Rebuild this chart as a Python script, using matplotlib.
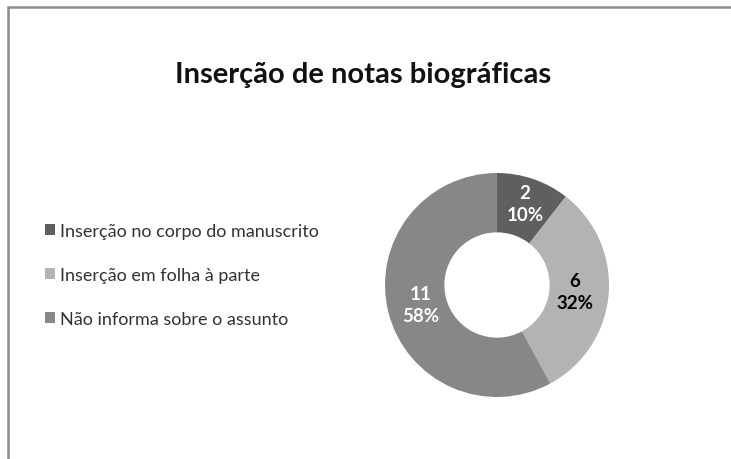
import matplotlib
matplotlib.use("Agg")
import matplotlib.pyplot as plt
from matplotlib.patches import Rectangle
import numpy as np

categories = ["Inserção no corpo do manuscrito", "Inserção em folha à parte", "Não informa sobre o assunto"]
values = [2, 6, 11]
percent_labels = ["10%", "32%", "58%"]
colors = ["#5f5f5f", "#b3b3b3", "#878787"]
label_colors = ["white", "black", "white"]
title = "Inserção de notas biográficas"

plt.rcParams['font.family'] = ['Lato', 'DejaVu Sans']

W, H = 731, 460
fig = plt.figure(figsize=(W / 100, H / 100), dpi=100)
fig.patch.set_facecolor("white")

# frame (left/top visible, right/bottom cropped)
fig.add_artist(Rectangle((8 / W, -0.1), 1.2, 1.1 - 8 / H, transform=fig.transFigure,
                         fill=False, edgecolor="#8c8c8c", linewidth=1.8))

cx, cy, r = 497, 286, 112
ax = fig.add_axes([(cx - r) / W, 1 - (cy + r) / H, 2 * r / W, 2 * r / H])
wedges, _ = ax.pie(values, colors=colors, startangle=90, counterclock=False,
                   radius=1, wedgeprops=dict(width=0.53, edgecolor="none"))
ax.set_xlim(-1, 1)
ax.set_ylim(-1, 1)
ax.set_aspect("equal")
ax.axis("off")

dists = [0.77, 0.70, 0.70]
for w, v, p, c, d in zip(wedges, values, percent_labels, label_colors, dists):
    ang = np.deg2rad((w.theta1 + w.theta2) / 2)
    ax.text(d * np.cos(ang), d * np.sin(ang), f"{v}\n{p}",
            ha="center", va="center", color=c, fontsize=13.5, fontweight="bold",
            linespacing=1.35)

fig.text(363 / W, 1 - 75 / H, title, ha="center", va="center", fontsize=21,
         fontweight="bold", color="#111111")

leg = fig.legend(wedges, categories, loc="center left",
                 bbox_to_anchor=(36 / W, 1 - 276 / H), frameon=False,
                 fontsize=13, handlelength=0.55, handleheight=0.55,
                 handletextpad=0.3, labelspacing=1.55, borderpad=0)
for t in leg.get_texts():
    t.set_color("#333333")

fig.savefig("out.png", dpi=100, facecolor="white")
